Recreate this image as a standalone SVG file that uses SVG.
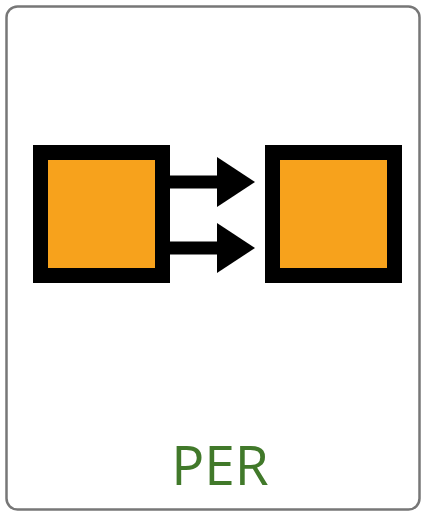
<svg xmlns="http://www.w3.org/2000/svg" width="425" height="517" viewBox="0 0 425 517">
<style>
.box{fill:#f7a21c;stroke:#000;stroke-width:15}
.lbl{font-family:"Open Sans","Noto Sans",sans-serif;font-size:55px;fill:#41792a}
.shaft{stroke:#000;stroke-width:13}
</style>
<defs>
<marker id="ah" markerUnits="userSpaceOnUse" markerWidth="40" markerHeight="50" refX="0" refY="25" orient="auto">
<path d="M0,0 L38,25 L0,50 Z" fill="#000"/>
</marker>
</defs>
<rect x="6.5" y="6.5" width="413" height="503" rx="11" fill="#fff" stroke="#777" stroke-width="2.5"/>
<g id="nodes">
<g id="left"><rect class="box" x="40.5" y="152.5" width="122" height="123"/></g>
<g id="right"><rect class="box" x="272.5" y="152.5" width="122" height="123"/></g>
</g>
<g id="connectors">
<path class="shaft" d="M168,182 H217" marker-end="url(#ah)"/>
<path class="shaft" d="M168,248 H217" marker-end="url(#ah)"/>
</g>
<text class="lbl" x="220" y="485" text-anchor="middle">PER</text>
</svg>
